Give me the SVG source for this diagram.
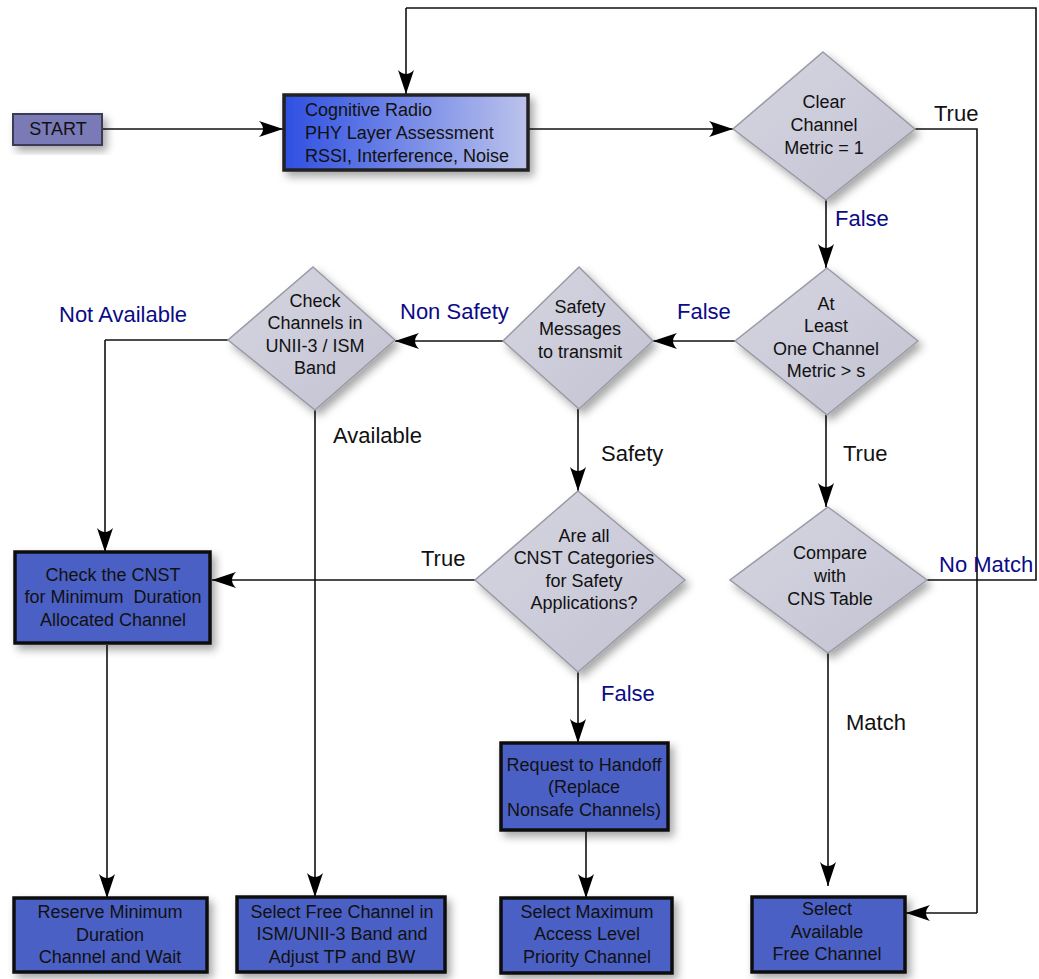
<svg xmlns="http://www.w3.org/2000/svg" width="1039" height="979" viewBox="0 0 1039 979">
<defs>
<style>
.box{fill:#4b60c4;stroke:#111;stroke-width:3.5}
.dia{fill:url(#dg);stroke:#9a9aa6;stroke-width:1.5}
.nt{font-family:"Liberation Sans",Arial,sans-serif;font-size:18px;fill:#111;text-anchor:middle}
.lbl{font-family:"Liberation Sans",Arial,sans-serif;font-size:22px;fill:#111}
.nav{fill:#0b0b86}
.ln{fill:none;stroke:#111;stroke-width:1.6}
.arr{marker-end:url(#ah)}
</style>
<linearGradient id="dg" x1="0" y1="0" x2="1" y2="1">
<stop offset="0" stop-color="#d6d6e2"/>
<stop offset="1" stop-color="#c2c2d2"/>
</linearGradient>
<linearGradient id="cg" x1="0" y1="0" x2="1" y2="0">
<stop offset="0" stop-color="#2e4fe2"/>
<stop offset="1" stop-color="#bcc3ec"/>
</linearGradient>
<filter id="sh" x="-20%" y="-20%" width="150%" height="150%">
<feDropShadow dx="4" dy="5" stdDeviation="4" flood-color="#000" flood-opacity="0.35"/>
</filter>
<marker id="ah" viewBox="0 0 24 16" refX="24" refY="8" markerWidth="24" markerHeight="16" markerUnits="userSpaceOnUse" orient="auto">
<path d="M24,8 L0,0 Q8,8 0,16 Z" fill="#000"/>
</marker>
</defs>
<rect width="1039" height="979" fill="#fff"/>

<g id="connectors">
<path class="ln arr" d="M101,129 H283"/>
<path class="ln arr" d="M529,129 H733"/>
<path class="ln" d="M915,129 H977 V913"/>
<path class="ln arr" d="M977,913 H906"/>
<path class="ln arr" d="M826,200 V268"/>
<path class="ln arr" d="M735,341 H653"/>
<path class="ln arr" d="M503,341 H395"/>
<path class="ln" d="M228,340 H105"/>
<path class="ln arr" d="M105,340 V552"/>
<path class="ln arr" d="M315,410 V897"/>
<path class="ln arr" d="M578,409 V491"/>
<path class="ln arr" d="M826,415 V507"/>
<path class="ln arr" d="M475,580 H212"/>
<path class="ln" d="M927,580 H1036 V8 H406"/>
<path class="ln arr" d="M406,8 V94"/>
<path class="ln arr" d="M828,653 V886"/>
<path class="ln arr" d="M578,672 V743"/>
<path class="ln arr" d="M586,830 V898"/>
<path class="ln arr" d="M107,645 V898"/>
</g>

<g id="labels">
<text class="lbl" x="934" y="121">True</text>
<text class="lbl nav" x="835" y="226">False</text>
<text class="lbl nav" x="677" y="319">False</text>
<text class="lbl nav" x="400" y="319">Non Safety</text>
<text class="lbl nav" x="59" y="322">Not Available</text>
<text class="lbl" x="333" y="443">Available</text>
<text class="lbl" x="601" y="461">Safety</text>
<text class="lbl" x="843" y="461">True</text>
<text class="lbl" x="421" y="566">True</text>
<text class="lbl nav" x="939" y="572">No Match</text>
<text class="lbl nav" x="601" y="701">False</text>
<text class="lbl" x="846" y="730">Match</text>
</g>

<g id="start">
<rect x="13" y="114" width="89" height="31" fill="#7a7ab6" stroke="#3a3a55" stroke-width="2" filter="url(#sh)"/>
<text class="nt" x="58" y="135">START</text>
</g>

<g id="cognitive-radio">
<rect x="284" y="95" width="244" height="75" fill="url(#cg)" stroke="#222" stroke-width="3.5" filter="url(#sh)"/>
<text class="nt" x="305" y="116" text-anchor="start" style="text-anchor:start">Cognitive Radio</text>
<text class="nt" x="305" y="139" style="text-anchor:start">PHY Layer Assessment</text>
<text class="nt" x="305" y="162" style="text-anchor:start">RSSI, Interference, Noise</text>
</g>

<g id="clear-channel">
<polygon class="dia" points="823,52 915,129 826,200 733,129" filter="url(#sh)"/>
<text class="nt" x="824" y="108">Clear</text>
<text class="nt" x="824" y="131">Channel</text>
<text class="nt" x="824" y="154">Metric = 1</text>
</g>

<g id="at-least">
<polygon class="dia" points="827,268 918,341 827,415 735,341" filter="url(#sh)"/>
<text class="nt" x="826" y="310">At</text>
<text class="nt" x="826" y="332">Least</text>
<text class="nt" x="826" y="355">One Channel</text>
<text class="nt" x="826" y="377">Metric &gt; s</text>
</g>

<g id="safety-messages">
<polygon class="dia" points="579,267 653,341 579,409 503,341" filter="url(#sh)"/>
<text class="nt" x="580" y="313">Safety</text>
<text class="nt" x="580" y="335">Messages</text>
<text class="nt" x="580" y="358">to transmit</text>
</g>

<g id="check-channels">
<polygon class="dia" points="313,267 395,340 315,410 228,340" filter="url(#sh)"/>
<text class="nt" x="315" y="307">Check</text>
<text class="nt" x="315" y="329">Channels in</text>
<text class="nt" x="315" y="352">UNII-3 / ISM</text>
<text class="nt" x="315" y="374">Band</text>
</g>

<g id="are-all">
<polygon class="dia" points="578,491 685,580 578,672 475,580" filter="url(#sh)"/>
<text class="nt" x="584" y="542">Are all</text>
<text class="nt" x="584" y="564">CNST Categories</text>
<text class="nt" x="584" y="587">for Safety</text>
<text class="nt" x="584" y="609">Applications?</text>
</g>

<g id="compare">
<polygon class="dia" points="828,507 927,580 828,653 730,580" filter="url(#sh)"/>
<text class="nt" x="830" y="559">Compare</text>
<text class="nt" x="830" y="582">with</text>
<text class="nt" x="830" y="605">CNS Table</text>
</g>

<g id="check-cnst">
<rect class="box" x="15" y="552" width="195" height="91" filter="url(#sh)"/>
<text class="nt" x="113" y="581">Check the CNST</text>
<text class="nt" x="113" y="603" style="white-space:pre">for Minimum  Duration</text>
<text class="nt" x="113" y="626">Allocated Channel</text>
</g>

<g id="request-handoff">
<rect class="box" x="501" y="743" width="167" height="87" filter="url(#sh)"/>
<text class="nt" x="584" y="771">Request to Handoff</text>
<text class="nt" x="584" y="793">(Replace</text>
<text class="nt" x="584" y="816">Nonsafe Channels)</text>
</g>

<g id="reserve">
<rect class="box" x="14" y="898" width="193" height="74" filter="url(#sh)"/>
<text class="nt" x="110" y="918">Reserve Minimum</text>
<text class="nt" x="110" y="941">Duration</text>
<text class="nt" x="110" y="963">Channel and Wait</text>
</g>

<g id="select-free">
<rect class="box" x="237" y="897" width="208" height="75" filter="url(#sh)"/>
<text class="nt" x="342" y="918">Select Free Channel in</text>
<text class="nt" x="342" y="940">ISM/UNII-3 Band and</text>
<text class="nt" x="342" y="963">Adjust TP and BW</text>
</g>

<g id="select-maximum">
<rect class="box" x="501" y="898" width="171" height="75" filter="url(#sh)"/>
<text class="nt" x="587" y="918">Select Maximum</text>
<text class="nt" x="587" y="940">Access Level</text>
<text class="nt" x="587" y="963">Priority Channel</text>
</g>

<g id="select-available">
<rect class="box" x="752" y="897" width="153" height="75" filter="url(#sh)"/>
<text class="nt" x="827" y="915">Select</text>
<text class="nt" x="827" y="938">Available</text>
<text class="nt" x="827" y="960">Free Channel</text>
</g>
</svg>
